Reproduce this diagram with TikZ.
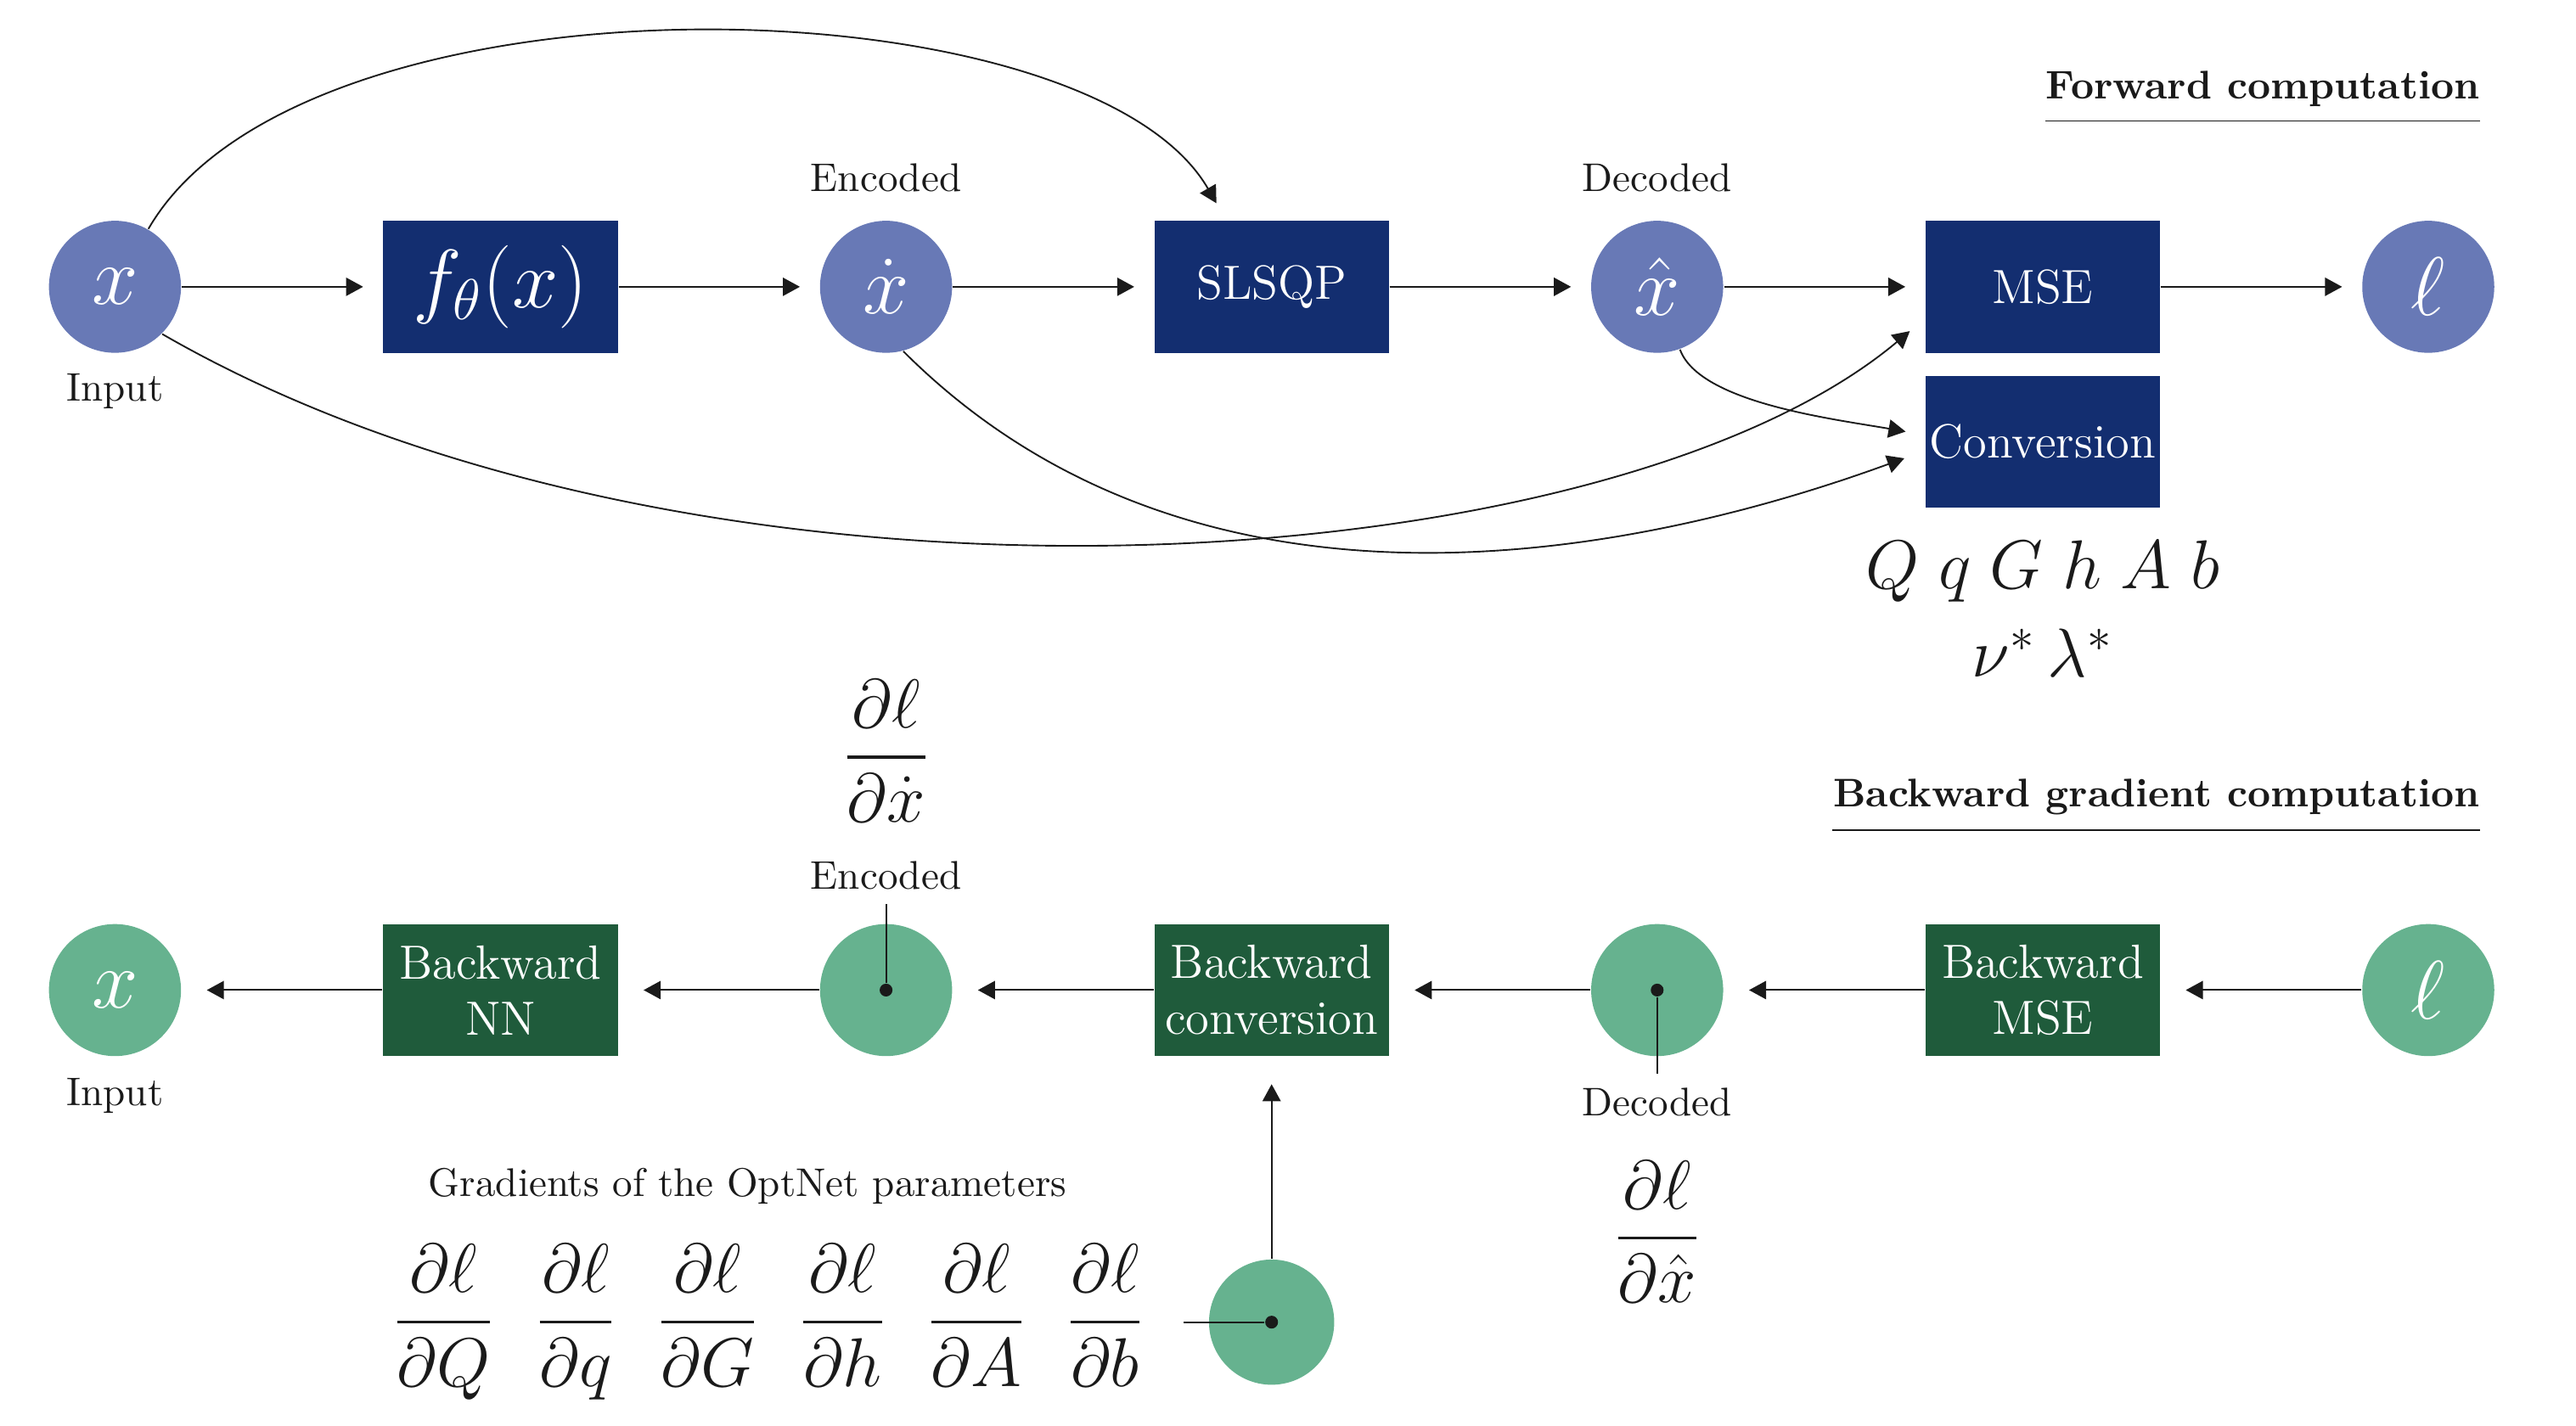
\documentclass[tikz,border=0pt]{standalone}
\usepackage{amsmath}
\usetikzlibrary{arrows.meta}
\definecolor{fwddark}{HTML}{132E70}
\definecolor{fwdlight}{HTML}{6879B6}
\definecolor{bwddark}{HTML}{1F5B3B}
\definecolor{bwdlight}{HTML}{66B28F}
\definecolor{linecol}{HTML}{1A1A1A}

\begin{document}
\begin{tikzpicture}[>={Triangle[length=1.5mm,width=1.6mm]}, color=linecol,
  fwdcirc/.style={circle,fill=fwdlight,text=white,minimum size=1.16cm,inner sep=0pt,font=\huge},
  fwdbox/.style={rectangle,fill=fwddark,text=white,minimum width=2.06cm,minimum height=1.16cm,inner sep=0pt,font=\large},
  bwdcirc/.style={circle,fill=bwdlight,text=white,minimum size=1.16cm,inner sep=0pt,font=\huge},
  bwdbox/.style={rectangle,fill=bwddark,text=white,minimum width=2.06cm,minimum height=1.16cm,inner sep=0pt,font=\large,align=center},
  dotnode/.style={circle,fill=linecol,minimum size=3.2pt,inner sep=0pt}]
\useasboundingbox (0,0) rectangle (22.63,-12.527);

\node[fwdcirc] (in) at (1.010,-2.52) {$x$}; \node[fwdbox] (nn) at (4.397,-2.52) {\huge $f_\theta(x)$}; \node[fwdcirc] (enc) at (7.784,-2.52) {$\dot{x}$};
\node[fwdbox] (slsqp) at (11.171,-2.52) {SLSQP}; \node[fwdcirc] (dec) at (14.558,-2.52) {$\hat{x}$}; \node[fwdbox] (mse) at (17.945,-2.52) {MSE};
\node[fwdcirc] (loss) at (21.332,-2.52) {$\ell$}; \node[fwdbox] (conv) at (17.945,-3.882) {Conversion};
\node (inlbl) at (1.010,-3.435) {Input}; \node (enclbl) at (7.784,-1.559) {Encoded}; \node (declbl) at (14.558,-1.559) {Decoded};
\node[font=\LARGE,align=center] (params) at (17.945,-5.35) {$Q\;q\;G\;h\;A\;b$\\$\nu^*\,\lambda^*$};
\node[anchor=east,inner sep=0pt,font=\bfseries] (fwdtitle) at (21.79,-0.78) {Forward computation};
\draw ([yshift=-0.12cm]fwdtitle.south west) -- ([yshift=-0.12cm]fwdtitle.south east);

\draw[->,shorten >=0.17cm] (in) -- (nn); \draw[->,shorten >=0.17cm] (nn) -- (enc); \draw[->,shorten >=0.17cm] (enc) -- (slsqp);
\draw[->,shorten >=0.17cm] (slsqp) -- (dec); \draw[->,shorten >=0.17cm] (dec) -- (mse); \draw[->,shorten >=0.17cm] (mse) -- (loss);
\draw[->,shorten >=0.17cm] (in.60) .. controls +(60:2.71) and +(120:2.46) .. ([xshift=-0.4cm]slsqp.north);
\draw[->,shorten >=0.17cm] (in.-45) .. controls +(-30:5.45) and +(220:3.64) .. ([yshift=-0.28cm]mse.west);
\draw[->,shorten >=0.19cm] (enc.-75) .. controls +(-45:4) and +(200:2) .. ([yshift=-0.08cm]conv.west);
\draw[->,shorten >=0.17cm] (dec.-70) .. controls +(-70:0.5) and +(170:0.8) .. ([yshift=0.06cm]conv.west);

\node[bwdcirc] (bin) at (1.010,-8.70) {$x$}; \node[bwdbox] (bnn) at (4.397,-8.70) {Backward\\NN}; \node[bwdcirc] (benc) at (7.784,-8.70) {};
\node[bwdbox] (bconv) at (11.171,-8.70) {Backward\\conversion}; \node[bwdcirc] (bdec) at (14.558,-8.70) {}; \node[bwdbox] (bmse) at (17.945,-8.70) {Backward\\MSE};
\node[bwdcirc] (bloss) at (21.332,-8.70) {$\ell$};
\node[dotnode] (encdot) at (benc) {}; \node[dotnode] (decdot) at (bdec) {};
\node (binlbl) at (1.010,-9.626) {Input}; \node (benclbl) at (7.784,-7.692) {Encoded}; \node (bdeclbl) at (14.558,-9.684) {Decoded};
\node[font=\LARGE] (dxdot) at (7.784,-6.596) {$\displaystyle\frac{\partial\ell}{\partial\dot{x}}$};
\node[font=\LARGE] (dxhat) at (14.558,-10.824) {$\displaystyle\frac{\partial\ell}{\partial\hat{x}}$};
\node[anchor=east,inner sep=0pt,font=\bfseries] (bwdtitle) at (21.79,-7.0) {Backward gradient computation};
\draw ([yshift=-0.13cm]bwdtitle.south west) -- ([yshift=-0.13cm]bwdtitle.south east);

\draw[->,shorten >=0.22cm] (bloss) -- (bmse); \draw[->,shorten >=0.22cm] (bmse) -- (bdec); \draw[->,shorten >=0.22cm] (bdec) -- (bconv);
\draw[->,shorten >=0.22cm] (bconv) -- (benc); \draw[->,shorten >=0.22cm] (benc) -- (bnn); \draw[->,shorten >=0.22cm] (bnn) -- (bin);
\draw (encdot) -- (benclbl); \draw (decdot) -- (bdeclbl);

\node[bwdcirc,minimum size=1.1cm] (grad) at (11.171,-11.618) {}; \node[dotnode] (graddot) at (grad) {};
\node[font=\LARGE,anchor=east] (grads) at (10.175,-11.618) {$\displaystyle\frac{\partial\ell}{\partial Q}\hspace{0.35cm}\frac{\partial\ell}{\partial q}\hspace{0.35cm}\frac{\partial\ell}{\partial G}\hspace{0.35cm}\frac{\partial\ell}{\partial h}\hspace{0.35cm}\frac{\partial\ell}{\partial A}\hspace{0.35cm}\frac{\partial\ell}{\partial b}$};
\node (gradlbl) at (6.567,-10.42) {Gradients of the OptNet parameters};
\draw (graddot) -- ([xshift=0.22cm]grads.east); \draw[->,shorten >=0.24cm] (grad) -- (bconv);
\end{tikzpicture}
\end{document}
